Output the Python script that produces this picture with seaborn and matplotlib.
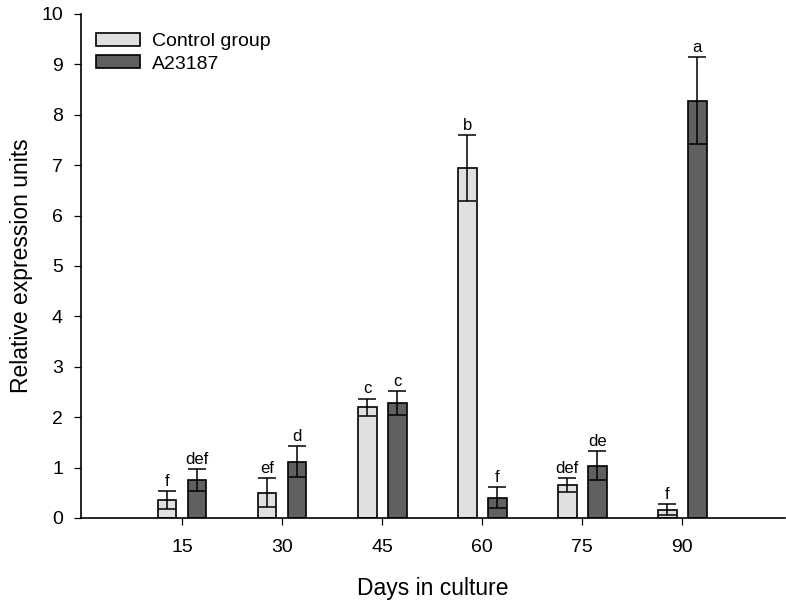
import pandas as pd
import seaborn as sns
import matplotlib.pyplot as plt

days = ['15', '30', '45', '60', '75', '90']
groups = ['Control group', 'A23187']
control_mean = [0.36, 0.50, 2.20, 6.94, 0.65, 0.16]
control_err = [0.18, 0.29, 0.17, 0.66, 0.14, 0.11]
a23187_mean = [0.75, 1.12, 2.28, 0.40, 1.04, 8.28]
a23187_err = [0.22, 0.31, 0.23, 0.21, 0.29, 0.86]
control_letters = ['f', 'ef', 'c', 'b', 'def', 'f']
a23187_letters = ['def', 'd', 'c', 'f', 'de', 'a']

df = pd.DataFrame({
    'day': days * 2,
    'group': [groups[0]] * len(days) + [groups[1]] * len(days),
    'value': control_mean + a23187_mean,
    'err': control_err + a23187_err,
    'letter': control_letters + a23187_letters,
})

sns.set_style('ticks')
plt.rcParams['font.family'] = ['Liberation Sans', 'DejaVu Sans']
for k in ['text.color', 'axes.labelcolor', 'xtick.color', 'ytick.color', 'axes.edgecolor']:
    plt.rcParams[k] = 'black'

fig = plt.figure(figsize=(7.86, 6.04), dpi=100)
ax = fig.add_axes([0.103, 0.1424, 0.896, 0.8345])

sns.barplot(data=df, x='day', y='value', hue='group', order=days,
            hue_order=groups, palette=['#e0e0e0', '#606060'],
            width=0.6, gap=0.37, errorbar=None, edgecolor='black',
            linewidth=1.2, saturation=1, ax=ax)

# error bars + letters, placed from the bars seaborn drew
bars = [p for p in ax.patches if p.get_height() > 0][:2 * len(days)]
bars = sorted(bars, key=lambda p: (p.get_facecolor()[0] < 0.5, p.get_x()))
for p, (_, row) in zip(bars, df.iterrows()):
    xc = p.get_x() + p.get_width() / 2
    ax.errorbar(xc, row['value'], yerr=row['err'], fmt='none', ecolor='black',
                elinewidth=1.1, capsize=6.8, capthick=1.1, zorder=5)
    ax.annotate(row['letter'], (xc, row['value'] + row['err']),
                xytext=(0, 1.5), textcoords='offset points', ha='center',
                va='bottom', fontsize=12)

ax.set_xlim(-1.01, 6.03)
ax.set_ylim(0, 10)
ax.set_yticks(range(0, 11))
ax.tick_params(axis='both', labelsize=14, length=5, width=0.9, direction='out')
ax.tick_params(axis='x', pad=10)
ax.tick_params(axis='y', pad=8)
ax.set_xlabel('Days in culture', fontsize=16.5, labelpad=15)
ax.set_ylabel('Relative expression units', fontsize=16.5, labelpad=6)
for s in ['left', 'bottom']:
    ax.spines[s].set_linewidth(1.2)
sns.despine(ax=ax)

ax.legend(loc='upper left', bbox_to_anchor=(-0.004, 0.997), frameon=False,
          fontsize=14, handlelength=2.3, handleheight=0.67,
          handletextpad=0.6, labelspacing=0.25)

fig.savefig('out.png', dpi=100)
